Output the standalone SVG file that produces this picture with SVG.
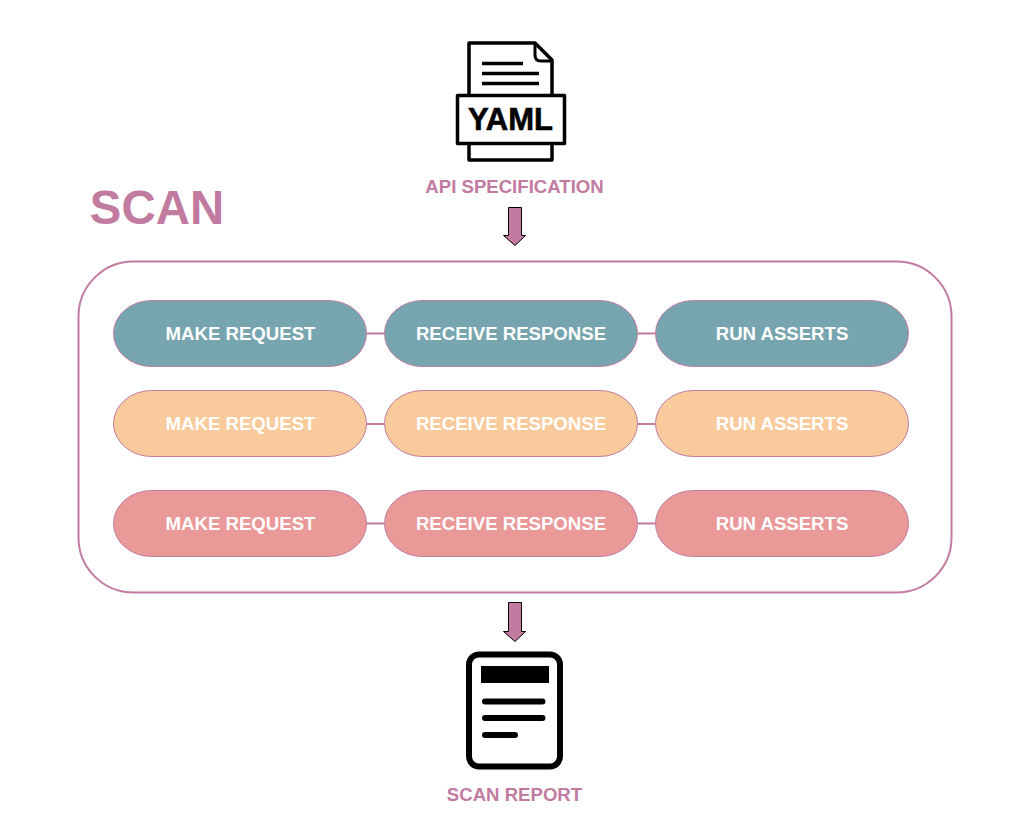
<svg xmlns="http://www.w3.org/2000/svg" width="1013" height="814" viewBox="0 0 1013 814">
<style>
text{font-family:"Liberation Sans",Arial,sans-serif;font-weight:700;text-anchor:middle}
.pill{stroke:#c27ba0;stroke-width:1}
.pt{fill:#fff;font-size:18.600px}
.teal{fill:#76a5af}.peach{fill:#f9cb9c}.rose{fill:#ea9999}
.lab{fill:#c27ba0;font-size:18.600px}
.conn{stroke:#c27ba0;stroke-width:2;fill:none}
.arrow{fill:#c27ba0;stroke:#000;stroke-width:1}
.k{fill:none;stroke:#000;stroke-linejoin:round}
</style>
<rect width="1013" height="814" fill="#fff"/>
<g id="scan-container"><rect x="78.500" y="261.500" width="873" height="331" rx="55" fill="#fff" stroke="#c27ba0" stroke-width="2"/></g>
<g id="connectors">
<path class="conn" d="M367 333.500H384M638 333.500H655M367 424H384M638 424H655M367 523.500H384M638 523.500H655"/>
<path class="arrow" d="M508.500 207.500H521.500V235.500H525.500L515 245.500L503.500 235.500H508.500Z"/>
<path class="arrow" d="M508.500 602.500H521.500V631.500H525.500L515 641.500L503.500 631.500H508.500Z"/>
</g>
<g id="scan-title"><text x="157" y="224" font-size="47.400" style="fill:#c27ba0">SCAN</text></g>
<g id="yaml-icon">
<path class="k" stroke-width="3.500" d="M469 94V43H535L552 60V94M469 145V160H552V145"/>
<path class="k" stroke-width="3" d="M535 43V55Q535 61 541 61H552"/>
<path class="k" stroke-width="3.500" d="M482 63.500H523M482 73.500H539M482 83.500H539"/>
<rect class="k" stroke-width="3.500" x="457.500" y="95.500" width="107" height="48" fill="#fff"/>
<text x="510.500" y="130" font-size="31" fill="#000" stroke="#000" stroke-width="0.600">YAML</text>
</g>
<g id="api-label"><text class="lab" x="514.500" y="193">API SPECIFICATION</text></g>
<g id="row1-make"><rect class="pill teal" x="113.500" y="300.500" width="253" height="66" rx="38" ry="33"/><text class="pt" x="240.500" y="340">MAKE REQUEST</text></g>
<g id="row1-receive"><rect class="pill teal" x="384.500" y="300.500" width="253" height="66" rx="38" ry="33"/><text class="pt" x="511" y="340">RECEIVE RESPONSE</text></g>
<g id="row1-run"><rect class="pill teal" x="655.500" y="300.500" width="253" height="66" rx="38" ry="33"/><text class="pt" x="782" y="340">RUN ASSERTS</text></g>
<g id="row2-make"><rect class="pill peach" x="113.500" y="390.500" width="253" height="66" rx="38" ry="33"/><text class="pt" x="240.500" y="430">MAKE REQUEST</text></g>
<g id="row2-receive"><rect class="pill peach" x="384.500" y="390.500" width="253" height="66" rx="38" ry="33"/><text class="pt" x="511" y="430">RECEIVE RESPONSE</text></g>
<g id="row2-run"><rect class="pill peach" x="655.500" y="390.500" width="253" height="66" rx="38" ry="33"/><text class="pt" x="782" y="430">RUN ASSERTS</text></g>
<g id="row3-make"><rect class="pill rose" x="113.500" y="490.500" width="253" height="66" rx="38" ry="33"/><text class="pt" x="240.500" y="530">MAKE REQUEST</text></g>
<g id="row3-receive"><rect class="pill rose" x="384.500" y="490.500" width="253" height="66" rx="38" ry="33"/><text class="pt" x="511" y="530">RECEIVE RESPONSE</text></g>
<g id="row3-run"><rect class="pill rose" x="655.500" y="490.500" width="253" height="66" rx="38" ry="33"/><text class="pt" x="782" y="530">RUN ASSERTS</text></g>
<g id="report-icon">
<rect class="k" stroke-width="6" x="469" y="654.500" width="91" height="112" rx="10"/>
<rect x="481" y="666" width="68" height="17" fill="#000"/>
<path class="k" stroke-width="6" stroke-linecap="round" d="M485 701.500H542.500M485 718H542.500M485 735H515"/>
</g>
<g id="report-label"><text class="lab" x="514.500" y="801">SCAN REPORT</text></g>
</svg>
